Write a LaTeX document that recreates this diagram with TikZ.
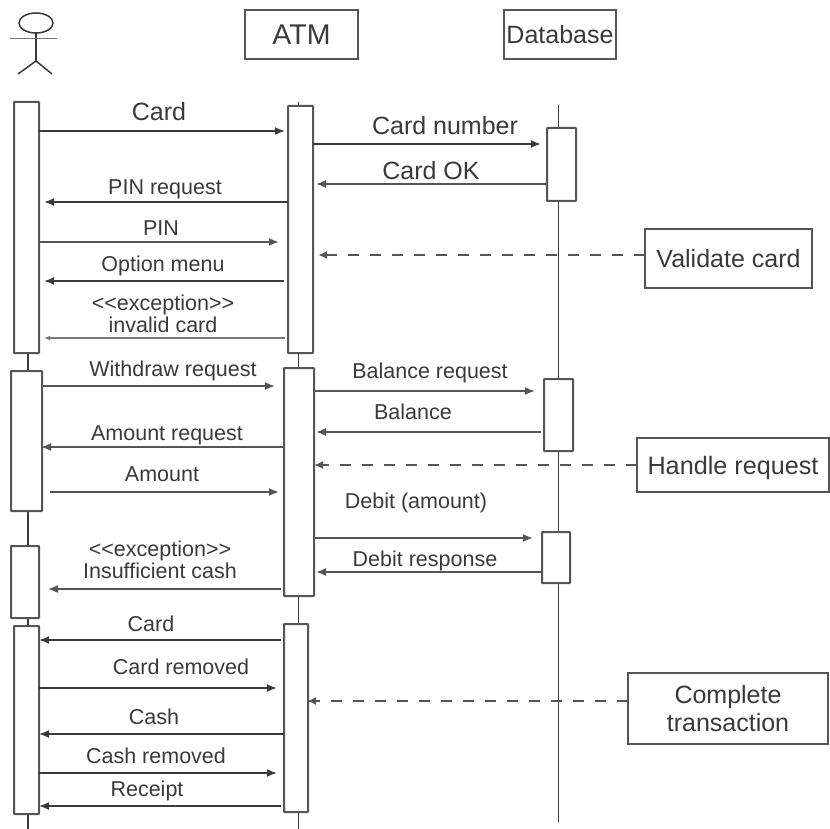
\documentclass[tikz,border=0pt]{standalone}
\usepackage{fontspec}
\setmainfont{Liberation Sans}
\usetikzlibrary{arrows.meta,shapes.geometric}
\definecolor{ink}{HTML}{3A3A3A}
\definecolor{edge}{HTML}{555555}
\tikzset{
  lbl/.style={text=ink,inner sep=0pt,align=center},
  sm/.style={lbl,font=\fontsize{21.5}{22}\selectfont},
  md/.style={lbl,font=\fontsize{25}{26}\selectfont},
  msg/.style={draw=ink,line width=1.8pt,-{Latex[length=10pt,width=8pt]}},
  lightmsg/.style={draw=edge,line width=1.7pt,-{Latex[length=10pt,width=8pt]}},
  thinmsg/.style={draw=edge!80,line width=1.3pt,-{Latex[length=6pt,width=5pt]}},
  note/.style={draw=edge,line width=2.4pt,-{Latex[length=9pt,width=8pt]},dash pattern=on 11pt off 11pt},
  life/.style={draw=ink,line width=1.7pt},
  act/.style={draw=edge,line width=2pt,fill=white,inner sep=0pt,outer sep=0pt,rounded corners=0.5pt},
  head/.style={draw=edge,line width=2pt,fill=white,inner sep=0pt,outer sep=0pt,text=ink},
  limb/.style={draw=ink,line width=1.5pt}
}
\newcommand{\actbox}[5]{\node[act,anchor=north west,minimum width=#4-#2,minimum height=#5-#3] (#1) at (#2,#3) {};}
\newcommand{\headbox}[7]{\node[head,anchor=north west,minimum width=#4-#2,minimum height=#5-#3,font=\fontsize{#6}{#6}\selectfont,align=center] (#1) at (#2,#3) {#7};}
\begin{document}
\begin{tikzpicture}[x=1pt,y=-1pt]
\useasboundingbox (0,0) rectangle (830,829);
\fill[white] (0,0) rectangle (830,829);

% actor
\node[draw=ink,line width=1.5pt,ellipse,minimum width=34pt,minimum height=20pt,inner sep=0pt,outer sep=0pt] (uhead) at (36,23) {};
\coordinate (uhip) at (36,61);
\coordinate (uarml) at (10,38.5);
\coordinate (uarmr) at (57,38.5);
\coordinate (ulegl) at (18,74);
\coordinate (ulegr) at (52,74);
\draw[limb] (uhead.south) -- (uhip);
\draw[limb,draw=edge!80,line width=1.8pt] (uarml) -- (uarmr);
\draw[limb] (ulegl) -- (uhip) -- (ulegr);

% headers
\headbox{atm}{245}{10}{358}{59}{28.5}{ATM}
\headbox{db}{504}{10}{616}{59}{25}{Database}

% lifeline ends
\coordinate (atop) at (298.5,102);
\coordinate (aend) at (298.5,829);
\coordinate (uend) at (28,829);
\coordinate (ustart) at (28,353);
\coordinate (dtop) at (558.5,105);
\coordinate (dend) at (558.5,822);

% lifelines behind the boxes
\draw[life] (dtop) -- (dend);
\draw[life] (atop) -- (aend);
\draw[life] (ustart) -- (uend);

% activation boxes
\actbox{u1}{14}{102}{39}{353}
\actbox{u2}{11}{371}{42}{511}
\actbox{u3}{11}{546}{39}{618}
\actbox{u4}{14}{626}{39}{814}
\actbox{a1}{288}{106}{313}{353}
\actbox{a2}{284}{368}{314}{596}
\actbox{a3}{284}{624}{308}{812}
\actbox{d1}{547}{128}{576}{201}
\actbox{d2}{544}{379}{573}{451}
\actbox{d3}{542}{532}{570}{583}

% note boxes
\node[head,anchor=north west,minimum width=167pt,minimum height=59pt,font=\fontsize{25}{26}\selectfont] (nval) at (645,229) {Validate card};
\node[head,anchor=north west,minimum width=192pt,minimum height=54pt,font=\fontsize{25.2}{26}\selectfont,text height=18pt,text depth=0pt] (nhan) at (637,438) {Handle request};
\node[head,anchor=north west,minimum width=200pt,minimum height=71pt,font=\fontsize{25}{28}\selectfont,align=center] (ncom) at (628,673) {Complete\\transaction};

% messages: user <-> ATM
\draw[msg] (u1.east |- 0,131) -- ([xshift=-3pt]a1.west |- 0,131);
\draw[msg] (a1.west |- 0,202) -- ([xshift=5pt]u1.east |- 0,202);
\draw[lightmsg] (u1.east |- 0,242) -- ([xshift=-9pt]a1.west |- 0,242);
\draw[msg] ([xshift=-4pt]a1.west |- 0,281) -- ([xshift=5pt]u1.east |- 0,281);
\draw[thinmsg] ([xshift=-3pt]a1.west |- 0,338) -- ([xshift=5pt]u1.east |- 0,338);
\draw[lightmsg] (u2.east |- 0,386) -- ([xshift=-9pt]a2.west |- 0,386);
\draw[lightmsg] (a2.west |- 0,447) -- ([xshift=-1pt]u2.east |- 0,447);
\draw[lightmsg] ([xshift=8pt]u2.east |- 0,492) -- ([xshift=-5pt]a2.west |- 0,492);
\draw[lightmsg] ([xshift=-3pt]a2.west |- 0,589) -- ([xshift=9pt]u3.east |- 0,589);
\draw[msg] ([xshift=-3pt]a3.west |- 0,640) -- (u4.east |- 0,640);
\draw[msg] (u4.east |- 0,688) -- ([xshift=-7pt]a3.west |- 0,688);
\draw[msg] (a3.west |- 0,734) -- (u4.east |- 0,734);
\draw[msg] (u4.east |- 0,773) -- ([xshift=-7pt]a3.west |- 0,773);
\draw[msg] ([xshift=-3pt]a3.west |- 0,806) -- (u4.east |- 0,806);

% messages: ATM <-> database
\draw[msg] (a1.east |- 0,144) -- ([xshift=-6pt]d1.west |- 0,144);
\draw[lightmsg] (d1.west |- 0,184) -- ([xshift=3pt]a1.east |- 0,184);
\draw[lightmsg] (a2.east |- 0,391) -- ([xshift=-9pt]d2.west |- 0,391);
\draw[lightmsg] ([xshift=-3pt]d2.west |- 0,432) -- ([xshift=2pt]a2.east |- 0,432);
\draw[lightmsg] (a2.east |- 0,538) -- ([xshift=-9pt]d3.west |- 0,538);
\draw[lightmsg] (d3.west |- 0,572) -- ([xshift=2pt]a2.east |- 0,572);

% dashed notes
\draw[note] (nval.west |- 0,255) -- ([xshift=5pt]a1.east |- 0,255);
\draw[note] (nhan.west |- 0,465) -- (a2.east |- 0,465);
\draw[note] (ncom.west |- 0,701) -- ([xshift=-1pt]a3.east |- 0,701);

% labels
\node[md] (l1) at (159,112) {Card};
\node[md] (l2) at (445,126) {Card number};
\node[md] (l3) at (431,171) {Card OK};
\node[sm] (l4) at (165,189) {PIN request};
\node[sm] (l5) at (161,228) {PIN};
\node[sm] (l6) at (163,266) {Option menu};
\node[sm] (l7) at (163,314) {<{}<exception>{}>\\invalid card};
\node[sm] (l8) at (173,371) {Withdraw request};
\node[sm] (l9) at (430,373) {Balance request};
\node[sm] (l10) at (413,412) {Balance};
\node[sm] (l11) at (167,435) {Amount request};
\node[sm] (l12) at (162,474) {Amount};
\node[sm] (l13) at (416,503) {Debit (amount)};
\node[sm] (l14) at (425,561) {Debit response};
\node[sm] (l15) at (160,560) {<{}<exception>{}>\\Insufficient cash};
\node[sm] (l16) at (151,624) {Card};
\node[sm] (l17) at (181,667) {Card removed};
\node[sm] (l18) at (154,717) {Cash};
\node[sm] (l19) at (156,756) {Cash removed};
\node[sm] (l20) at (147,791) {Receipt};
\end{tikzpicture}
\end{document}
